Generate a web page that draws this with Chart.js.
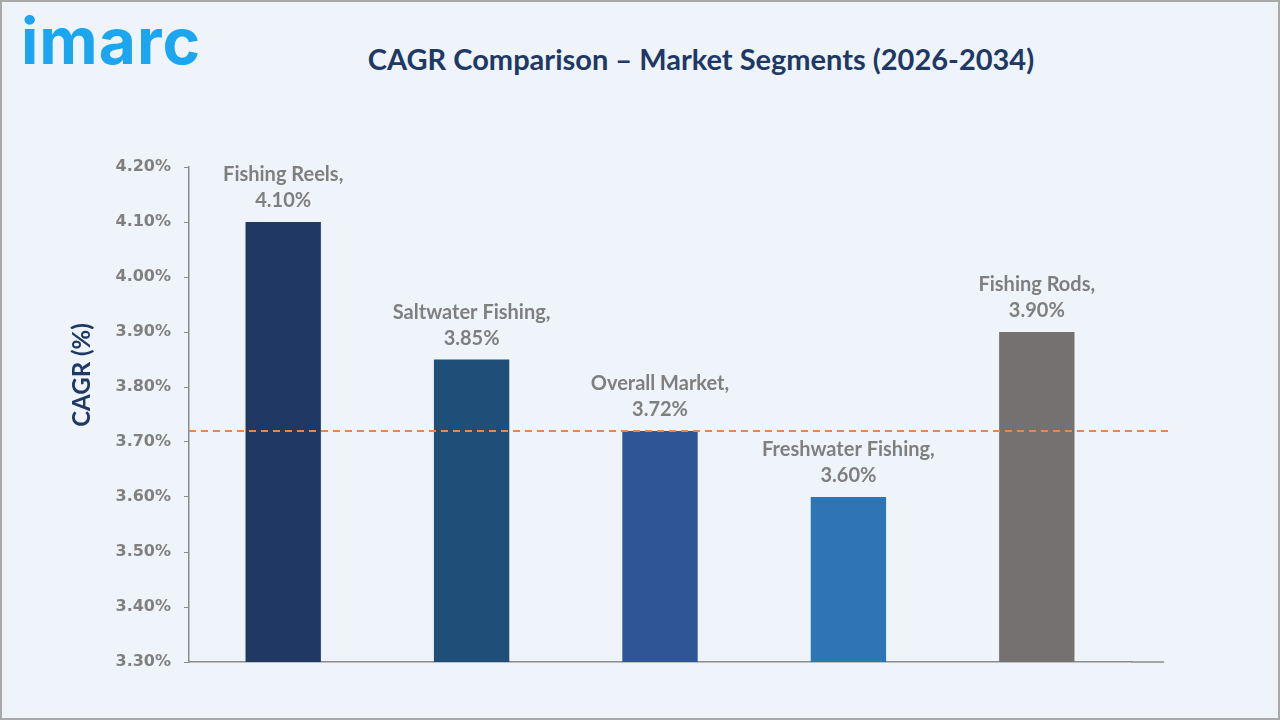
<!DOCTYPE html>
<html>
<head>
<meta charset="utf-8">
<script src="https://cdn.jsdelivr.net/npm/chart.js@4.4.1/dist/chart.umd.min.js"></script>
<style>
  html, body { margin: 0; padding: 0; background: #eff3fa; }
  #wrap { position: relative; width: 1280px; height: 720px; box-sizing: border-box; border: 2px solid #a9a9a9; background: #eff3fa; overflow: hidden; }
  #logo { position: absolute; left: 19px; top: 0px; font-family: "Inter", sans-serif; font-weight: 700; font-size: 64px; color: #1ba6ef; letter-spacing: 1px; }
  #title { position: absolute; left: 0; width: 1398px; top: 39px; text-align: center; font-family: "Lato", sans-serif; font-weight: 700; font-size: 29px; color: #203864; }
  canvas { position: absolute; left: -2px; top: -2px; }
</style>
</head>
<body>
<div id="wrap">
  <div id="logo">imarc</div>
  <div id="title">CAGR Comparison – Market Segments (2026-2034)</div>
  <canvas id="chart" width="1280" height="720"></canvas>
</div>
<script>
// data
const segments = ["Fishing Reels", "Saltwater Fishing", "Overall Market", "Freshwater Fishing", "Fishing Rods"];
const cagrValues = [4.10, 3.85, 3.72, 3.60, 3.90];
const barColors = ["#1f3864", "#1f4e79", "#2f5597", "#2e75b6", "#767171"];
const overallMarket = 3.72;
const yTicks = { min: 3.3, max: 4.2, step: 0.1 };
const yTitle = "CAGR (%)";

// 바 위 라벨 (이름, 값) 두 줄
const barLabels = {
  id: "barLabels",
  afterDatasetsDraw(chart) {
    const ctx = chart.ctx;
    const meta = chart.getDatasetMeta(0);
    ctx.save();
    ctx.fillStyle = "#7f7f7f";
    ctx.font = "bold 20px Lato";
    ctx.textAlign = "center";
    ctx.textBaseline = "middle";
    meta.data.forEach((bar, i) => {
      ctx.fillText(segments[i] + ",", bar.x, bar.y - 47);
      ctx.fillText(cagrValues[i].toFixed(2) + "%", bar.x, bar.y - 21);
    });
    // y축 제목 (원본은 축 중앙보다 위쪽에 있음)
    ctx.translate(82, 375);
    ctx.rotate(-Math.PI / 2);
    ctx.fillStyle = "#203864";
    ctx.font = "bold 24px Lato";
    ctx.fillText(yTitle, 0, 0);
    ctx.restore();
  }
};

// overall market 기준 점선 + x축 선 연장
const refLine = {
  id: "refLine",
  afterDatasetsDraw(chart) {
    const { ctx, chartArea, scales } = chart;
    const y = scales.y.getPixelForValue(overallMarket);
    ctx.save();
    ctx.strokeStyle = "#8c8c8c";
    ctx.lineWidth = 1.5;
    ctx.beginPath();
    ctx.moveTo(chartArea.right, chartArea.bottom);
    ctx.lineTo(chartArea.right + 33, chartArea.bottom);
    ctx.stroke();
    ctx.strokeStyle = "#e8874d";
    ctx.lineWidth = 2;
    ctx.setLineDash([7, 5]);
    ctx.beginPath();
    ctx.moveTo(chartArea.left, y);
    ctx.lineTo(chartArea.right + 40, y);
    ctx.stroke();
    ctx.restore();
  }
};

new Chart(document.getElementById("chart"), {
  type: "bar",
  data: {
    labels: segments,
    datasets: [{
      data: cagrValues,
      backgroundColor: barColors,
      borderWidth: 0,
      categoryPercentage: 1,
      barPercentage: 0.4
    }]
  },
  options: {
    responsive: false,
    animation: false,
    devicePixelRatio: 1,
    layout: { padding: { left: 62, right: 149, top: 167, bottom: 58 } },
    plugins: { legend: { display: false }, tooltip: { enabled: false } },
    scales: {
      x: {
        ticks: { display: false },
        grid: { display: false },
        border: { color: "#8c8c8c", width: 1.5 },
        afterFit: (s) => { s.height = 0; }
      },
      y: {
        min: yTicks.min,
        max: yTicks.max,
        ticks: {
          stepSize: yTicks.step,
          padding: 13,
          color: "#808080",
          font: { family: "DejaVu Sans", weight: "bold", size: 16 },
          callback: (v) => Number(v).toFixed(2) + "%"
        },
        grid: { drawOnChartArea: false, drawTicks: true, tickLength: 5, color: "#8c8c8c" },
        border: { color: "#8c8c8c", width: 1.5 },
        title: { display: false },
        afterFit: (s) => { s.width = 127; }
      }
    }
  },
  plugins: [refLine, barLabels]
});
</script>
</body>
</html>
